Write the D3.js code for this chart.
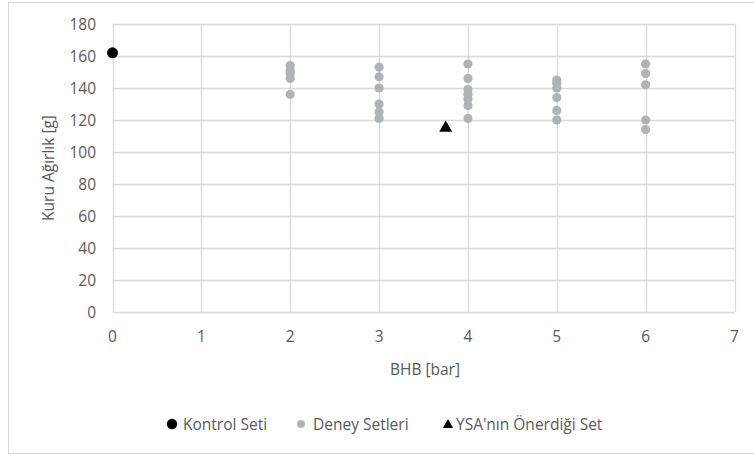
<!DOCTYPE html>
<html><head><meta charset="utf-8">
<script src="https://cdn.jsdelivr.net/npm/d3@7"></script>
<style>body{margin:0;background:#fff}svg text{font-family:"Open Sans","Noto Sans",sans-serif;fill:#595959}</style>
</head><body>
<svg id="c" width="754" height="456"></svg>
<script>
const xTicks = [0,1,2,3,4,5,6,7];
const yTicks = [0,20,40,60,80,100,120,140,160,180];
const controlX = [0];
const controlY = [162];
const deneyX = [2,2,2,2,2, 3,3,3,3,3,3, 4,4,4,4,4,4,4, 5,5,5,5,5,5, 6,6,6,6,6];
const deneyY = [154,151,149,146,136, 153,147,140,130,125,121, 155,146,139,136,133,129,121, 145,143,140,134,126,120, 155,149,142,120,114];
const ysaX = [3.75];
const ysaY = [115];
const legendLabels = ["Kontrol Seti","Deney Setleri","YSA'nın Önerdiği Set"];

const FS = 15.5;
const svg = d3.select("#c");
svg.append("rect").attr("x",8.5).attr("y",2.5).attr("width",760).attr("height",451)
  .attr("fill","#fff").attr("stroke","#d9d9d9");
const L=112.5, R=734.5, T=24, B=312;
const x = d3.scaleLinear().domain([0,7]).range([L,R]);
const y = d3.scaleLinear().domain([0,180]).range([B,T]);
const g = svg.append("g");
g.selectAll(".hg").data(yTicks).join("line").attr("x1",L).attr("x2",R)
  .attr("y1",d=>Math.round(y(d))+0.5).attr("y2",d=>Math.round(y(d))+0.5).attr("stroke","#d9d9d9").attr("stroke-width",1.3);
g.selectAll(".vg").data(xTicks).join("line").attr("y1",T).attr("y2",B)
  .attr("x1",d=>Math.round(x(d))+0.5).attr("x2",d=>Math.round(x(d))+0.5).attr("stroke","#d9d9d9").attr("stroke-width",1.3);
g.selectAll(".yl").data(yTicks).join("text").attr("x",96).attr("y",d=>y(d)+5.5)
  .attr("text-anchor","end").attr("font-size",FS).text(d=>d);
g.selectAll(".xl").data(xTicks).join("text").attr("x",d=>x(d)).attr("y",342)
  .attr("text-anchor","middle").attr("font-size",FS).text(d=>d);
svg.append("text").attr("x",425).attr("y",375).attr("text-anchor","middle").attr("font-size",FS).text("BHB [bar]");
svg.append("text").attr("transform","translate(54,168) rotate(-90)").attr("text-anchor","middle").attr("font-size",FS).text("Kuru Ağırlık [g]");

g.selectAll(".dn").data(deneyX.map((v,i)=>[v,deneyY[i]])).join("circle")
  .attr("cx",d=>x(d[0])).attr("cy",d=>y(d[1])).attr("r",4.6).attr("fill","#b0b3b6");
g.selectAll(".ct").data(controlX.map((v,i)=>[v,controlY[i]])).join("circle")
  .attr("cx",d=>x(d[0])).attr("cy",d=>y(d[1])).attr("r",5.5).attr("fill","#000");
const tri = d3.symbol().type(d3.symbolTriangle).size(73);
g.selectAll(".ys").data(ysaX.map((v,i)=>[v,ysaY[i]])).join("path")
  .attr("transform",d=>`translate(${x(d[0])},${y(d[1])})`).attr("d",tri).attr("fill","#000");

// legend
const lg = svg.append("g");
const items = [{t:legendLabels[0],k:"c",m:172,tx:183},{t:legendLabels[1],k:"d",m:301,tx:313},{t:legendLabels[2],k:"y",m:448,tx:456}];
items.forEach(it=>{
  if(it.k==="c") lg.append("circle").attr("cx",it.m).attr("cy",424).attr("r",5.2).attr("fill","#000");
  if(it.k==="d") lg.append("circle").attr("cx",it.m).attr("cy",424).attr("r",4).attr("fill","#b0b3b6");
  if(it.k==="y") lg.append("path").attr("transform",`translate(${it.m},425)`).attr("d",d3.symbol().type(d3.symbolTriangle).size(45)).attr("fill","#000");
  lg.append("text").attr("x",it.tx).attr("y",430).attr("font-size",FS).text(it.t);
});
</script>
</body></html>
